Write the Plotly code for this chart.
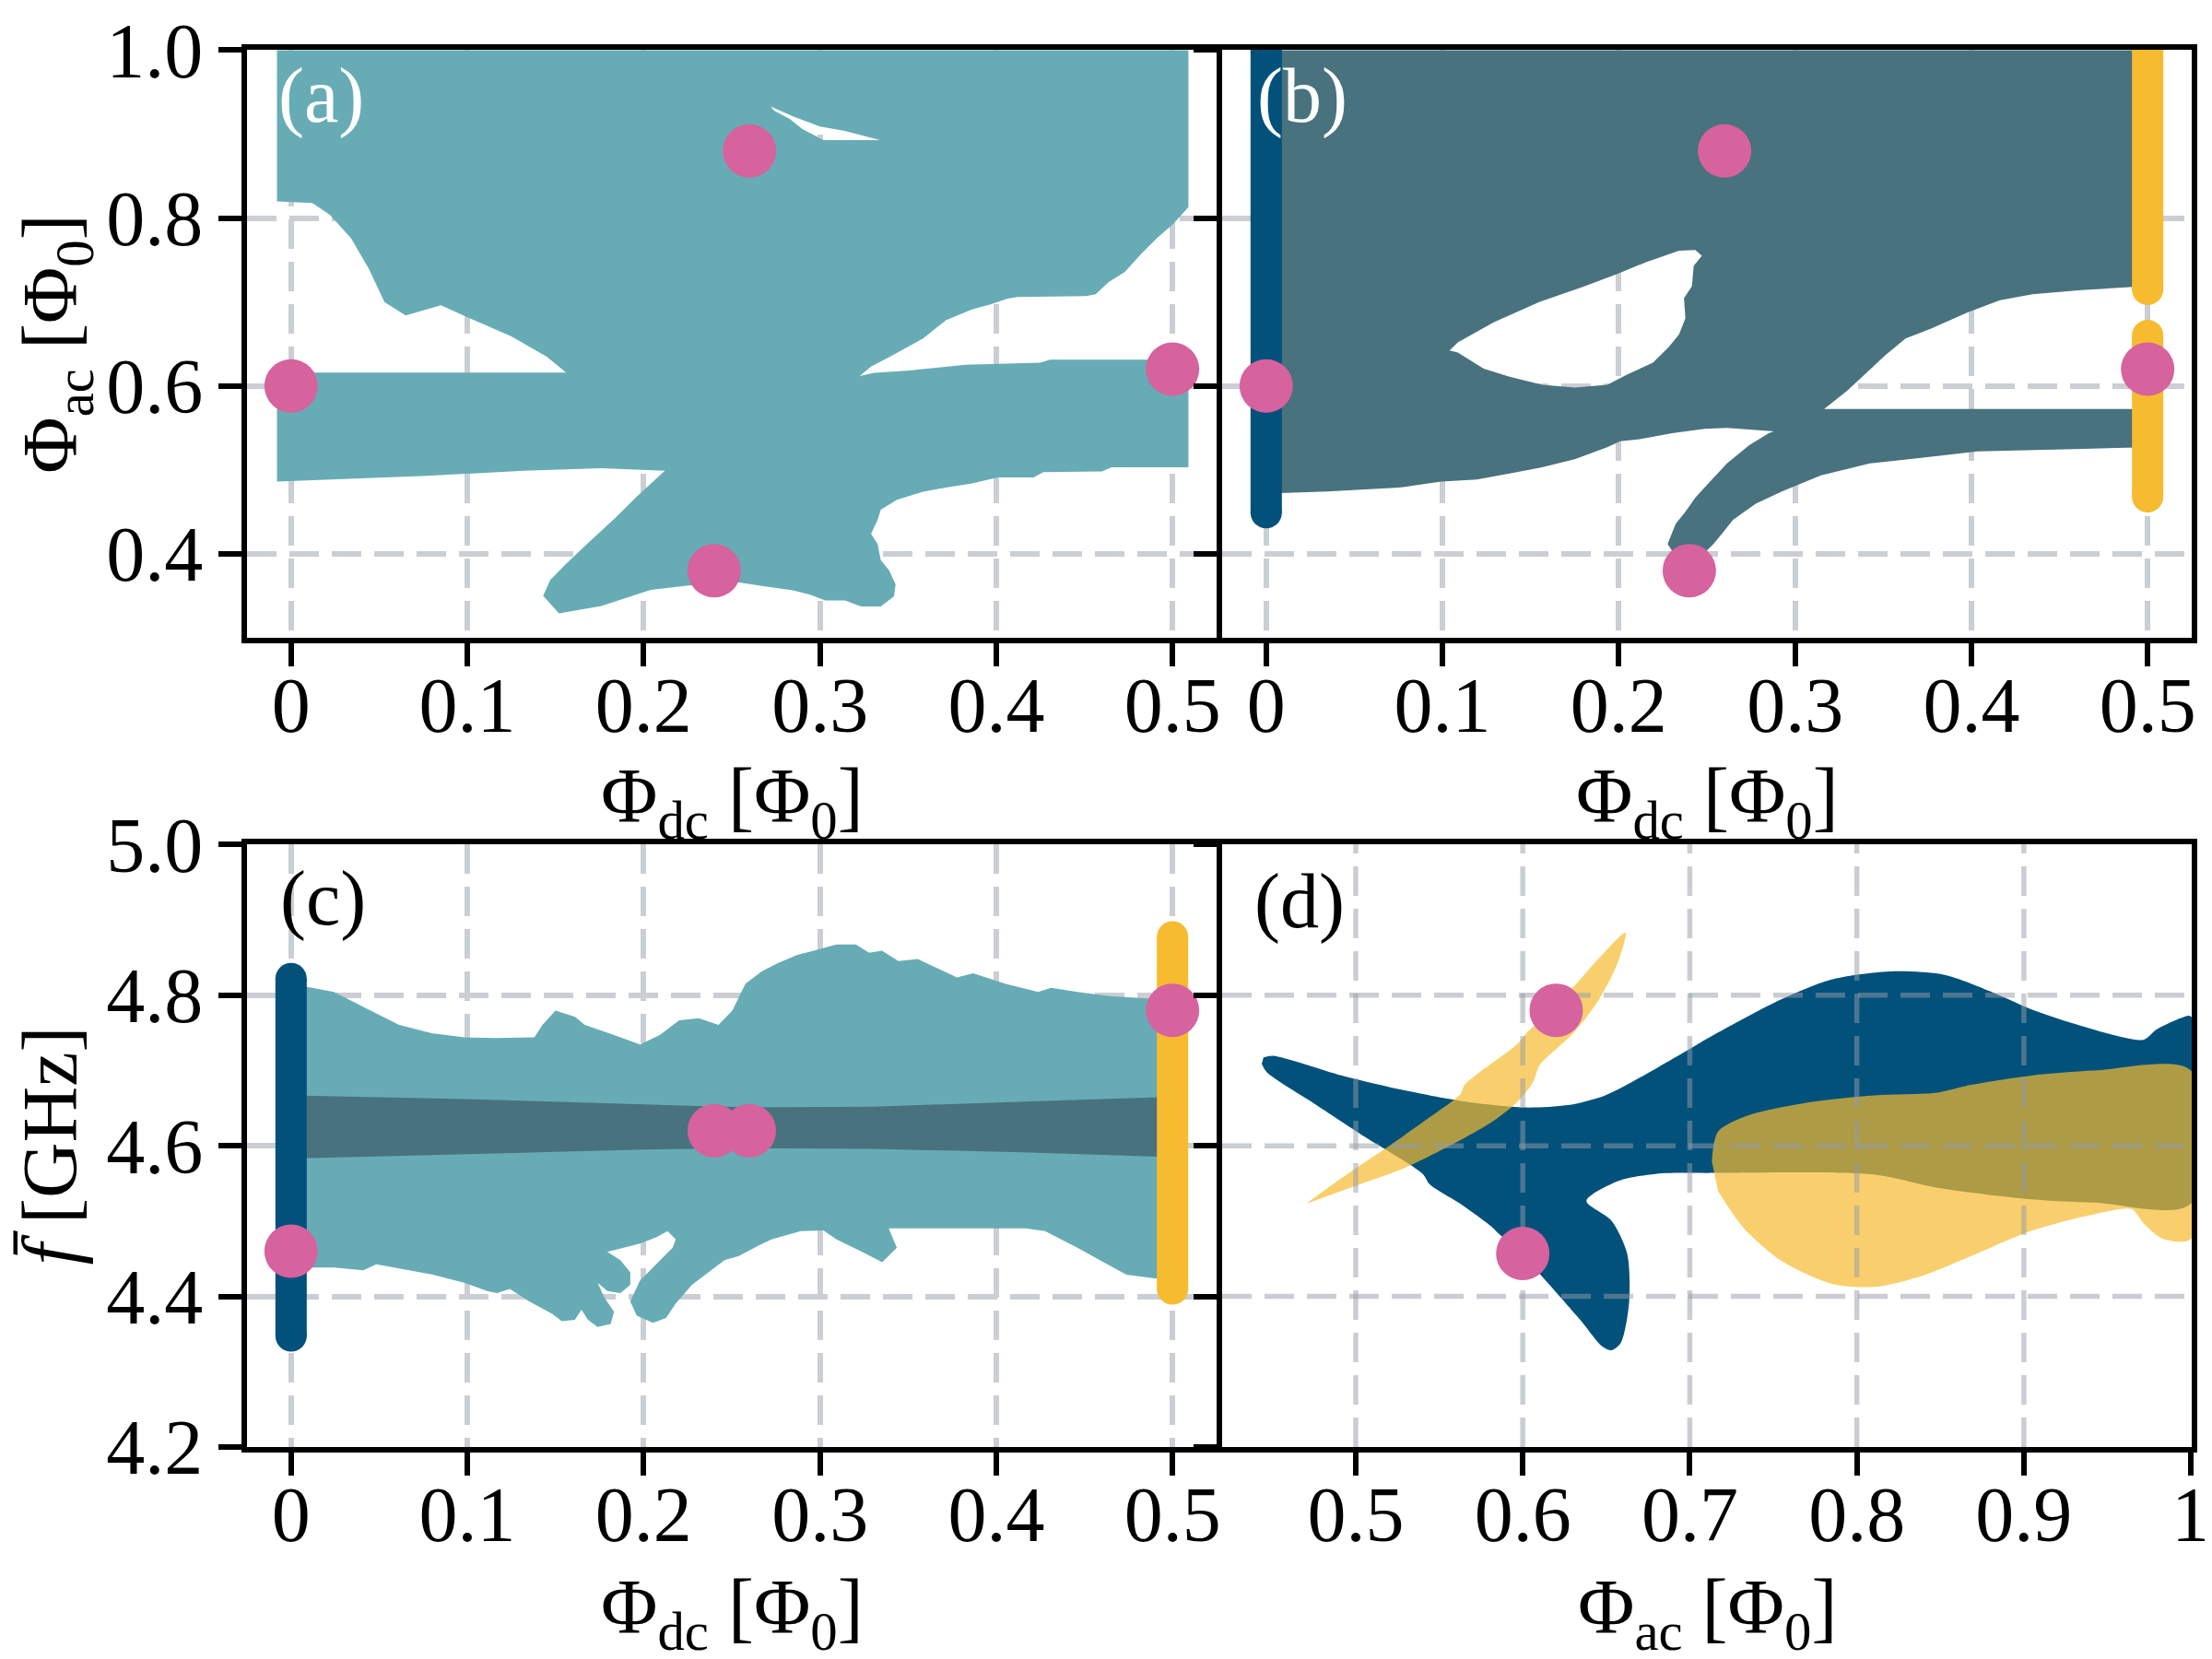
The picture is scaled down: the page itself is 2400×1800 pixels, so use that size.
import plotly.graph_objects as go

# ---------------- axes / ticks ----------------
dc_range = [-0.025, 0.525]
ac_range = [0.3, 1.0005]
f_range = [4.2, 5.0005]
acx_range = [0.42, 1.0005]
dc_ticks = [0, 0.1, 0.2, 0.3, 0.4, 0.5]
dc_ticktext = ["0", "0.1", "0.2", "0.3", "0.4", "0.5"]
ac_ticks = [0.4, 0.6, 0.8, 1.0]
ac_ticktext = ["0.4", "0.6", "0.8", "1.0"]
f_ticks = [4.2, 4.4, 4.6, 4.8, 5.0]
f_ticktext = ["4.2", "4.4", "4.6", "4.8", "5.0"]
acx_ticks = [0.5, 0.6, 0.7, 0.8, 0.9, 1.0]
acx_ticktext = ["0.5", "0.6", "0.7", "0.8", "0.9", "1"]

# ---------------- operating points ----------------
pts_dc = [0.0, 0.26, 0.24, 0.5]
pts_ac = [0.60, 0.88, 0.38, 0.62]
c_pts_dc = [0.0, 0.24, 0.26, 0.5]
c_pts_f = [4.46, 4.62, 4.62, 4.78]
d_pts_ac = [0.60, 0.62]
d_pts_f = [4.457, 4.78]

# ---------------- bars (Phi_dc = 0 and 0.5 columns) ----------------
b_bar0_x = [0.0, 0.0]
b_bar0_y = [0.449, 1.0]
b_bar5_x = [0.5, 0.5]
b_bar5_upper_y = [0.715, 1.0]
b_bar5_lower_y = [0.468, 0.66]
c_bar0_x = [0.0, 0.0]
c_bar0_y = [4.3475, 4.822]
c_bar5_x = [0.5, 0.5]
c_bar5_y = [4.41, 4.8776]

# ---------------- regions (boundary outlines) ----------------
a_region = [(-0.008, 1.0), (0.272, 1.0), (0.272, 0.933), (0.274, 0.928), (0.283, 0.918), (0.290, 0.906),
            (0.302, 0.893), (0.334, 0.893), (0.314, 0.904), (0.300, 0.909), (0.285, 0.921), (0.272, 0.933),
            (0.272, 1.0), (0.509, 1.0), (0.509, 0.813), (0.5006, 0.7934), (0.4914, 0.7766), (0.4822, 0.7574),
            (0.473, 0.7358), (0.4638, 0.7238), (0.4564, 0.7094), (0.451, 0.707), (0.412, 0.706), (0.4064, 0.704),
            (0.3972, 0.6974), (0.3862, 0.6912), (0.3714, 0.6782), (0.3585, 0.6566), (0.3419, 0.6374),
            (0.329, 0.623), (0.3225, 0.6119), (0.3308, 0.6158), (0.3493, 0.618), (0.3825, 0.6254),
            (0.425, 0.6277), (0.4305, 0.6312), (0.4859, 0.6312), (0.509, 0.629), (0.509, 0.503),
            (0.5006, 0.503), (0.4655, 0.503), (0.46, 0.4982), (0.4267, 0.4973), (0.4212, 0.491),
            (0.4009, 0.491), (0.3862, 0.4838), (0.3714, 0.4789), (0.3585, 0.4741), (0.3437, 0.4645),
            (0.3345, 0.4526), (0.3327, 0.4406), (0.329, 0.4238), (0.3327, 0.4117), (0.3345, 0.3926),
            (0.3392, 0.3805), (0.3429, 0.3638), (0.342, 0.3494), (0.3345, 0.3373), (0.3234, 0.3373),
            (0.3142, 0.3445), (0.3031, 0.3445), (0.294, 0.3517), (0.2847, 0.3565), (0.268, 0.3614),
            (0.2533, 0.3661), (0.24, 0.366), (0.204, 0.357), (0.176, 0.338), (0.152, 0.329), (0.143, 0.35),
            (0.147, 0.369), (0.156, 0.388), (0.168, 0.412), (0.184, 0.443), (0.196, 0.468), (0.212, 0.499),
            (0.176, 0.502), (0.132, 0.499), (0.077, 0.493), (-0.008, 0.486), (-0.008, 0.616), (0.156, 0.616),
            (0.145, 0.635), (0.125, 0.659), (0.101, 0.681), (0.085, 0.696), (0.065, 0.684), (0.053, 0.70),
            (0.044, 0.74), (0.034, 0.776), (0.022, 0.804), (0.012, 0.818), (-0.008, 0.82)]

b_region = [(0.0, 1.0), (0.2434, 1.0), (0.2434, 0.762), (0.2342, 0.7612), (0.2158, 0.7478), (0.1991, 0.7334),
            (0.1807, 0.719), (0.1548, 0.6998), (0.129, 0.6758), (0.1087, 0.6518), (0.104, 0.6422),
            (0.1087, 0.6398), (0.1234, 0.6206), (0.138, 0.611), (0.1566, 0.6014), (0.175, 0.5981),
            (0.1935, 0.6014), (0.2046, 0.6134), (0.2194, 0.6278), (0.2286, 0.647), (0.2342, 0.6614),
            (0.2378, 0.6806), (0.237, 0.7046), (0.2415, 0.719), (0.2425, 0.743), (0.2471, 0.755),
            (0.2434, 0.762), (0.2434, 1.0), (0.5, 1.0), (0.5, 0.718), (0.492, 0.718), (0.4624, 0.7142),
            (0.4347, 0.7094), (0.4162, 0.7021), (0.3978, 0.6877), (0.3775, 0.6686), (0.3627, 0.6566),
            (0.3516, 0.6374), (0.3405, 0.6158), (0.3295, 0.5942), (0.3165, 0.5726), (0.5, 0.5726),
            (0.5, 0.527), (0.4533, 0.5246), (0.4035, 0.5222), (0.3739, 0.515), (0.3425, 0.5078),
            (0.3147, 0.4934), (0.2925, 0.4742), (0.2777, 0.4598), (0.2648, 0.4406), (0.2593, 0.4261),
            (0.2537, 0.4117), (0.248, 0.400), (0.240, 0.393), (0.232, 0.398), (0.2277, 0.4117),
            (0.2323, 0.4358), (0.2378, 0.4502), (0.2434, 0.467), (0.2508, 0.4838), (0.2614, 0.5078),
            (0.274, 0.5294), (0.2851, 0.5438), (0.2879, 0.546), (0.2614, 0.550), (0.2488, 0.549),
            (0.2303, 0.5438), (0.2119, 0.5366), (0.2008, 0.5342), (0.1934, 0.527), (0.175, 0.5126),
            (0.1565, 0.503), (0.138, 0.4958), (0.1196, 0.4885), (0.0993, 0.4861), (0.0753, 0.4789),
            (0.0347, 0.4742), (0.0, 0.4717)]

c_region = [(0.0, 4.815), (0.0243, 4.8043), (0.0428, 4.7823), (0.0613, 4.7605), (0.0797, 4.7496),
            (0.0982, 4.744), (0.1167, 4.743), (0.138, 4.744), (0.1426, 4.7605), (0.150, 4.7796),
            (0.1611, 4.7714), (0.1666, 4.7605), (0.1832, 4.747), (0.198, 4.7346), (0.2091, 4.747),
            (0.2202, 4.7667), (0.2313, 4.7695), (0.2424, 4.7605), (0.2503, 4.7797), (0.2577, 4.8152),
            (0.2669, 4.8317), (0.2761, 4.8426), (0.2872, 4.8536), (0.2965, 4.859), (0.3094, 4.8673),
            (0.3204, 4.8673), (0.3279, 4.8563), (0.3352, 4.859), (0.3445, 4.8454), (0.3555, 4.8481),
            (0.3629, 4.8399), (0.3777, 4.8235), (0.3869, 4.829), (0.4054, 4.8152), (0.4238, 4.8043),
            (0.4312, 4.8098), (0.446, 4.8043), (0.4645, 4.7988), (0.483, 4.796), (0.5, 4.795),
            (0.5, 4.4209), (0.4738, 4.429), (0.4609, 4.4455), (0.446, 4.4647), (0.4277, 4.4866),
            (0.4166, 4.4904), (0.3907, 4.4904), (0.339, 4.4904), (0.3436, 4.4647), (0.3353, 4.4455),
            (0.3242, 4.459), (0.3094, 4.4756), (0.302, 4.4877), (0.2891, 4.4866), (0.2725, 4.4756),
            (0.2651, 4.4675), (0.254, 4.4537), (0.2459, 4.4482), (0.2367, 4.4318), (0.2274, 4.4153),
            (0.2182, 4.3907), (0.2127, 4.3715), (0.2053, 4.365), (0.1961, 4.3743), (0.1924, 4.3935),
            (0.1979, 4.4209), (0.2071, 4.4428), (0.2164, 4.4647), (0.2182, 4.4756), (0.2136, 4.4866),
            (0.2071, 4.4784), (0.1979, 4.4702), (0.1794, 4.4592), (0.1868, 4.4482), (0.1924, 4.4318),
            (0.1924, 4.4153), (0.1868, 4.4044), (0.1794, 4.4071), (0.1739, 4.4182), (0.1776, 4.3989),
            (0.1832, 4.3797), (0.1813, 4.3633), (0.1739, 4.3595), (0.1684, 4.3688), (0.1647, 4.3825),
            (0.161, 4.3688), (0.1536, 4.3672), (0.1481, 4.377), (0.1351, 4.3935), (0.1241, 4.4099),
            (0.1167, 4.4044), (0.1112, 4.4071), (0.0982, 4.4182), (0.0798, 4.4291), (0.0613, 4.4373),
            (0.0484, 4.4428), (0.041, 4.4346), (0.0244, 4.4384), (0.0, 4.4384)]

c_band = [(0.0, 4.667), (0.1, 4.662), (0.2, 4.655), (0.26, 4.651), (0.33, 4.652), (0.42, 4.659),
          (0.5, 4.665), (0.5, 4.585), (0.42, 4.591), (0.33, 4.596), (0.26, 4.597), (0.2, 4.595),
          (0.1, 4.589), (0.0, 4.583)]

d_blue = [(0.4448, 4.7175), (0.4504, 4.7197), (0.4917, 4.6934), (0.5293, 4.6737), (0.5668, 4.6583),
          (0.6006, 4.6509), (0.6268, 4.654), (0.6494, 4.6671), (0.6794, 4.7022), (0.7169, 4.7504),
          (0.7545, 4.7943), (0.7845, 4.8206), (0.8201, 4.8316), (0.852, 4.8272), (0.882, 4.8031),
          (0.9046, 4.7811), (0.9346, 4.7592), (0.9714, 4.7408), (0.9796, 4.7548), (0.9946, 4.7702),
          (1.0, 4.772), (1.0, 4.523), (0.9421, 4.5246), (0.9046, 4.5289), (0.8483, 4.5443),
          (0.8108, 4.5618), (0.7132, 4.564), (0.6794, 4.5627), (0.6569, 4.5531), (0.6381, 4.5268),
          (0.6531, 4.5004), (0.6625, 4.4566), (0.6636, 4.3908), (0.6587, 4.3382), (0.6531, 4.3285),
          (0.6475, 4.3338), (0.6344, 4.3689), (0.6118, 4.4259), (0.5968, 4.4614), (0.5856, 4.4833),
          (0.5818, 4.4917), (0.563, 4.5224), (0.5443, 4.5487), (0.5405, 4.5618), (0.5293, 4.5794),
          (0.5068, 4.6101), (0.4767, 4.6539), (0.4467, 4.6978), (0.4437, 4.7088)]

d_yellow_streak = [(0.4711, 4.5246), (0.4917, 4.5575), (0.518, 4.5969), (0.5405, 4.632), (0.563, 4.6693),
                   (0.5649, 4.6803), (0.5743, 4.6978), (0.5968, 4.7351), (0.6025, 4.7504), (0.6156, 4.7768),
                   (0.6306, 4.8118), (0.6456, 4.8491), (0.6614, 4.8829), (0.6569, 4.8434), (0.6456, 4.7943),
                   (0.6306, 4.7504), (0.61, 4.7066), (0.6062, 4.6847), (0.5968, 4.6583), (0.5818, 4.632),
                   (0.5593, 4.6035), (0.5293, 4.5706), (0.4992, 4.5465), (0.4711, 4.5237)]

d_yellow_lobe = [(0.7132, 4.5794), (0.7169, 4.6189), (0.7357, 4.6408), (0.7732, 4.6583), (0.8108, 4.6671),
                 (0.8483, 4.6706), (0.867, 4.6803), (0.9046, 4.6934), (0.9421, 4.70), (1.0, 4.70),
                 (1.0, 4.4763), (0.9834, 4.4763), (0.9721, 4.4961), (0.9646, 4.5158), (0.9421, 4.5092),
                 (0.9046, 4.4873), (0.867, 4.4522), (0.837, 4.4259), (0.8108, 4.4127), (0.7845, 4.4171),
                 (0.7545, 4.4478), (0.7319, 4.4917), (0.7169, 4.5399)]

# ---------------- text ----------------
x_title_dc = "Φ<sub>dc</sub> [Φ<sub>0</sub>]"
x_title_ac = "Φ<sub>ac</sub> [Φ<sub>0</sub>]"
y_title_ac = "Φ<sub>ac</sub> [Φ<sub>0</sub>]"
y_title_f = "<i>f\u0304</i> [GHz]"

# ---------------- styles ----------------
TEAL = "#67ACB5"
SLATE = "#48727E"
BLUE = "#02517B"
YELLOW = "#F6BB2F"
YELLOW_A = "rgba(246,187,47,0.7)"
PINK = "#D6629E"
GRID = "#CBCED3"
GRID_A = "rgba(150,156,166,0.5)"
FONT = "Liberation Serif"
FS = 84
BAR_W = 34
DOT = 58
DASH = "32px,14px"
LW = 6
ML, MR, MT, MB = 260, 30, 46, 238


def xs(pairs):
    return [p[0] for p in pairs]


def ys(pairs):
    return [p[1] for p in pairs]


fig = go.Figure()


def region(pairs, color, xa, ya, shape="linear"):
    fig.add_trace(go.Scatter(x=xs(pairs), y=ys(pairs), mode="lines", fill="toself", fillcolor=color,
                             line=dict(width=0, simplify=False, shape=shape, smoothing=0.8),
                             xaxis=xa, yaxis=ya, hoverinfo="skip", showlegend=False))


def bar(x, y, color, xa, ya):
    fig.add_trace(go.Scatter(x=x, y=y, mode="lines+markers", line=dict(color=color, width=BAR_W),
                             marker=dict(color=color, size=BAR_W, line=dict(width=0)),
                             xaxis=xa, yaxis=ya, hoverinfo="skip", showlegend=False))


def dots(x, y, xa, ya):
    fig.add_trace(go.Scatter(x=x, y=y, mode="markers", marker=dict(color=PINK, size=DOT, line=dict(width=0)),
                             xaxis=xa, yaxis=ya, hoverinfo="skip", showlegend=False))


# (a)
region(a_region, TEAL, "x", "y")
dots(pts_dc, pts_ac, "x", "y")
# (b)
region(b_region, SLATE, "x2", "y2")
bar(b_bar0_x, b_bar0_y, BLUE, "x2", "y2")
bar(b_bar5_x, b_bar5_upper_y, YELLOW, "x2", "y2")
bar(b_bar5_x, b_bar5_lower_y, YELLOW, "x2", "y2")
dots(pts_dc, pts_ac, "x2", "y2")
# (c)
region(c_region, TEAL, "x3", "y3")
region(c_band, SLATE, "x3", "y3")
bar(c_bar0_x, c_bar0_y, BLUE, "x3", "y3")
bar(c_bar5_x, c_bar5_y, YELLOW, "x3", "y3")
dots(c_pts_dc, c_pts_f, "x3", "y3")
# (d)
region(d_blue, BLUE, "x4", "y4", "spline")
region(d_yellow_streak, YELLOW_A, "x4", "y4", "spline")
region(d_yellow_lobe, YELLOW_A, "x4", "y4", "spline")
# grid of (d) lies above the shapes
for v in acx_ticks:
    if acx_range[0] < v < acx_range[1] - 0.01:
        fig.add_trace(go.Scatter(x=[v, v], y=f_range, mode="lines",
                                 line=dict(color=GRID_A, width=5.5, dash=DASH),
                                 xaxis="x4", yaxis="y4", hoverinfo="skip", showlegend=False))
for v in f_ticks:
    if f_range[0] < v < f_range[1] - 0.01:
        fig.add_trace(go.Scatter(x=acx_range, y=[v, v], mode="lines",
                                 line=dict(color=GRID_A, width=5.5, dash=DASH),
                                 xaxis="x4", yaxis="y4", hoverinfo="skip", showlegend=False))
dots(d_pts_ac, d_pts_f, "x4", "y4")

PLOT_W = 2400 - ML - MR
PLOT_H = 1800 - MT - MB
HALF = LW / 2 / PLOT_W
LEFT = [0, 0.5 - HALF]
RIGHT = [0.5 + HALF, 1]
TOP_BOTTOM_PX = 684          # pixel row of the top panels' lower frame
BOT_TOP_PX = 908             # pixel row of the bottom panels' upper frame
BOT_BOTTOM_PX = 1800 - MB
TOP = [(BOT_BOTTOM_PX - TOP_BOTTOM_PX) / PLOT_H, 1.0]
BOT = [0.0, (BOT_BOTTOM_PX - BOT_TOP_PX) / PLOT_H]
TOP_H = TOP_BOTTOM_PX - MT
BOT_H = BOT_BOTTOM_PX - BOT_TOP_PX

common = dict(showline=True, linecolor="black", linewidth=LW, mirror=True, ticks="outside", ticklen=25,
              tickwidth=6, tickcolor="black", tickfont=dict(family=FONT, size=FS, color="black"),
              gridcolor=GRID, gridwidth=5.5, griddash=DASH, zeroline=False, automargin=False,
              ticklabeloverflow="allow")
xcommon = dict(common, ticklabelstandoff=-30)

title_font = dict(family=FONT, size=FS, color="black")

fig.update_layout(
    width=2400, height=1800, margin=dict(l=ML, r=MR, t=MT, b=MB),
    paper_bgcolor="white", plot_bgcolor="white", showlegend=False,
    font=dict(family=FONT, size=FS, color="black"),
    xaxis=dict(domain=LEFT, anchor="y", range=dc_range, tickvals=dc_ticks, ticktext=dc_ticktext, **xcommon),
    yaxis=dict(domain=TOP, anchor="x", range=ac_range, tickvals=ac_ticks, ticktext=ac_ticktext,
               title=dict(text=y_title_ac, font=title_font, standoff=16), **common),
    xaxis2=dict(domain=RIGHT, anchor="y2", range=dc_range, tickvals=dc_ticks, ticktext=dc_ticktext, **xcommon),
    yaxis2=dict(domain=TOP, anchor="x2", range=ac_range, tickvals=ac_ticks, ticktext=ac_ticktext,
                showticklabels=False, **common),
    xaxis3=dict(domain=LEFT, anchor="y3", range=dc_range, tickvals=dc_ticks, ticktext=dc_ticktext, **xcommon),
    yaxis3=dict(domain=BOT, anchor="x3", range=f_range, tickvals=f_ticks, ticktext=f_ticktext,
                title=dict(text=y_title_f, font=title_font, standoff=16), **common),
    xaxis4=dict(domain=RIGHT, anchor="y4", range=acx_range, tickvals=acx_ticks, ticktext=acx_ticktext,
                **{**xcommon, "showgrid": False}),
    yaxis4=dict(domain=BOT, anchor="x4", range=f_range, tickvals=f_ticks, ticktext=f_ticktext,
                showticklabels=False, **{**common, "showgrid": False}),
)

# x-axis titles, centred under each panel
top_py = -(862 - TOP_BOTTOM_PX) / TOP_H
bot_py = -(1742 - BOT_BOTTOM_PX) / BOT_H
x_titles = [(x_title_dc, "x", "y", top_py), (x_title_dc, "x2", "y2", top_py),
            (x_title_dc, "x3", "y3", bot_py), (x_title_ac, "x4", "y4", bot_py)]
for txt, xa, ya, py in x_titles:
    fig.add_annotation(text=txt, xref=xa + " domain", yref=ya + " domain", x=0.5, y=py,
                       xanchor="center", yanchor="middle", showarrow=False, font=title_font)

labels = [("(a)", "x", "y", 0.03, 0.998, "white"), ("(b)", "x2", "y2", 0.034, 0.998, "white"),
          ("(c)", "x3", "y3", 0.032, 0.985, "black"), ("(d)", "x4", "y4", 0.031, 0.98, "black")]
for txt, xa, ya, px, py, col in labels:
    fig.add_annotation(text=txt, xref=xa + " domain", yref=ya + " domain", x=px, y=py,
                       xanchor="left", yanchor="top", showarrow=False,
                       font=dict(family=FONT, size=FS, color=col))

fig.write_html("out.html")
